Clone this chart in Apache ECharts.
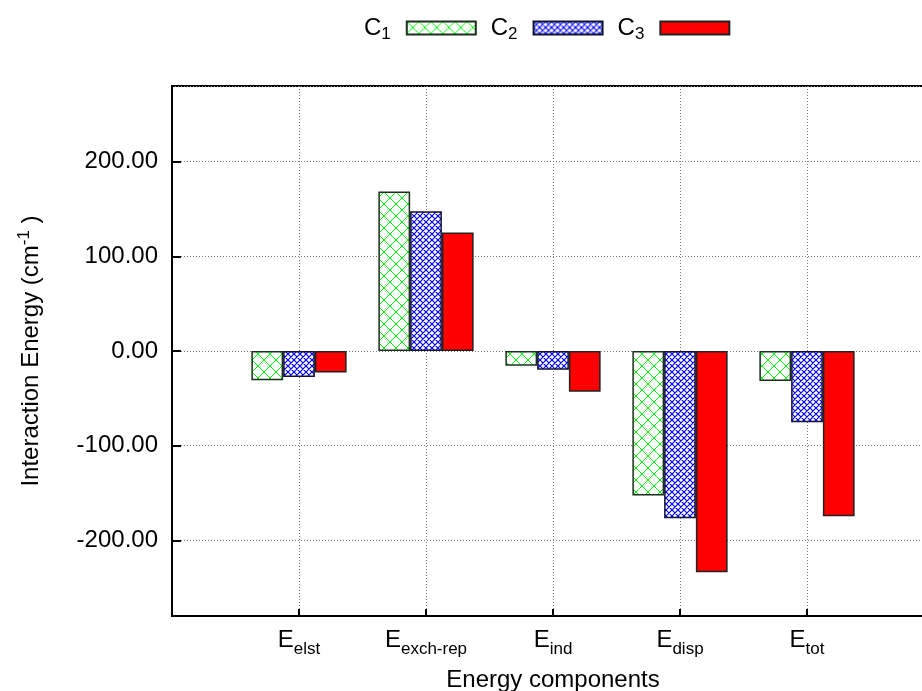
<!DOCTYPE html>
<html>
<head>
<meta charset="utf-8">
<script src="https://cdn.jsdelivr.net/npm/echarts@6/dist/echarts.min.js"></script>
<style>html,body{margin:0;padding:0;background:#fff;}#c{width:922px;height:691px;}</style>
</head>
<body>
<div id="c"></div>
<script>
// ---- data ----
const categories = ['elst', 'exch-rep', 'ind', 'disp', 'tot'];
const seriesNames = ['C1', 'C2', 'C3'];
const C1 = [-31.0, 168.4, -15.5, -152.6, -31.7];
const C2 = [-27.4, 147.7, -19.7, -176.6, -75.3];
const C3 = [-22.6, 125.1, -43.0, -233.9, -174.5];
const yMin = -280, yMax = 280;

const FONT = 'Liberation Sans';
const FS = 24, SFS = 17;

function hatch(color, size, lw) {
  const c = document.createElement('canvas');
  c.width = size; c.height = size;
  const g = c.getContext('2d');
  g.fillStyle = '#ffffff';
  g.fillRect(0, 0, size, size);
  g.strokeStyle = color;
  g.lineWidth = lw;
  g.beginPath();
  for (const k of [-size, 0, size]) {
    g.moveTo(k, 0); g.lineTo(k + size, size);
    g.moveTo(k + size, 0); g.lineTo(k, size);
  }
  g.stroke();
  return c;
}

const fills = [
  { image: hatch('#00ff00', 12, 1), repeat: 'repeat' },
  { image: hatch('#0000ff', 6, 1.2), repeat: 'repeat' },
  '#ff0000'
];
const borders = ['#1c2e1c', '#111133', '#222222'];
const values = [C1, C2, C3];

const chart = echarts.init(document.getElementById('c'), null, { renderer: 'canvas' });

const series = seriesNames.map((n, i) => ({
  name: n,
  type: 'bar',
  barWidth: '25%',
  barGap: '0%',
  data: ['-'].concat(values[i], ['-']),
  itemStyle: { color: fills[i], borderColor: borders[i], borderWidth: 1.5 },
  emphasis: { disabled: true }
}));

chart.setOption({
  animation: false,
  backgroundColor: '#fff',
  textStyle: { fontFamily: FONT, color: '#000' },
  legend: {
    data: seriesNames,
    left: 359,
    top: 11,
    align: 'right',
    itemWidth: 69,
    itemHeight: 13,
    itemGap: 14,
    icon: 'rect',
    formatter: n => '{a|C}{b|' + n.slice(1) + '}',
    textStyle: {
      fontFamily: FONT, color: '#000', padding: [0, 11, 0, 0],
      rich: {
        a: { fontSize: FS, fontFamily: FONT, color: '#000' },
        b: { fontSize: SFS, fontFamily: FONT, color: '#000', padding: [13, 0, 0, 0] }
      }
    }
  },
  grid: {
    left: 172, top: 86, bottom: 75, right: -12,
    outerBoundsMode: 'none',
    containLabel: false,
    show: true, borderColor: '#000', borderWidth: 2, backgroundColor: 'transparent'
  },
  xAxis: {
    type: 'category',
    boundaryGap: false,
    data: [''].concat(categories, ['']),
    name: 'Energy components',
    nameLocation: 'middle',
    nameGap: 52,
    nameTextStyle: { fontFamily: FONT, fontSize: FS, color: '#000' },
    axisLine: { show: true, onZero: false, lineStyle: { color: '#000', width: 2 } },
    axisTick: { show: true, inside: true, length: 7, lineStyle: { color: '#000', width: 2 } },
    axisLabel: {
      margin: 7,
      interval: 0,
      formatter: v => v ? '{e|E}{s|' + v + '}' : '',
      rich: {
        e: { fontSize: FS, fontFamily: FONT, color: '#000' },
        s: { fontSize: SFS, fontFamily: FONT, color: '#000', padding: [18, 0, 0, 0] }
      }
    },
    splitLine: { show: true, lineStyle: { color: '#777', width: 1, type: [1, 2] } }
  },
  yAxis: {
    type: 'value',
    min: yMin,
    max: yMax,
    splitNumber: 5,
    name: '{a|Interaction Energy (cm}{p|-1}{a| )}',
    nameLocation: 'middle',
    nameGap: 125,
    nameTextStyle: {
      fontFamily: FONT, fontSize: FS, color: '#000',
      rich: {
        a: { fontSize: FS, fontFamily: FONT, color: '#000' },
        p: { fontSize: SFS, fontFamily: FONT, color: '#000', padding: [0, 0, 14, 0] }
      }
    },
    axisLine: { show: true, onZero: false, lineStyle: { color: '#000', width: 2 } },
    axisTick: { show: true, inside: true, length: 9, lineStyle: { color: '#000', width: 2 } },
    axisLabel: {
      margin: 14,
      fontSize: FS,
      fontFamily: FONT,
      color: '#000',
      showMinLabel: false,
      showMaxLabel: false,
      formatter: v => (v === yMin || v === yMax) ? '' : v.toFixed(2)
    },
    splitLine: { show: true, lineStyle: { color: '#777', width: 1, type: [1, 2] } }
  },
  series: series
});
</script>
</body>
</html>
